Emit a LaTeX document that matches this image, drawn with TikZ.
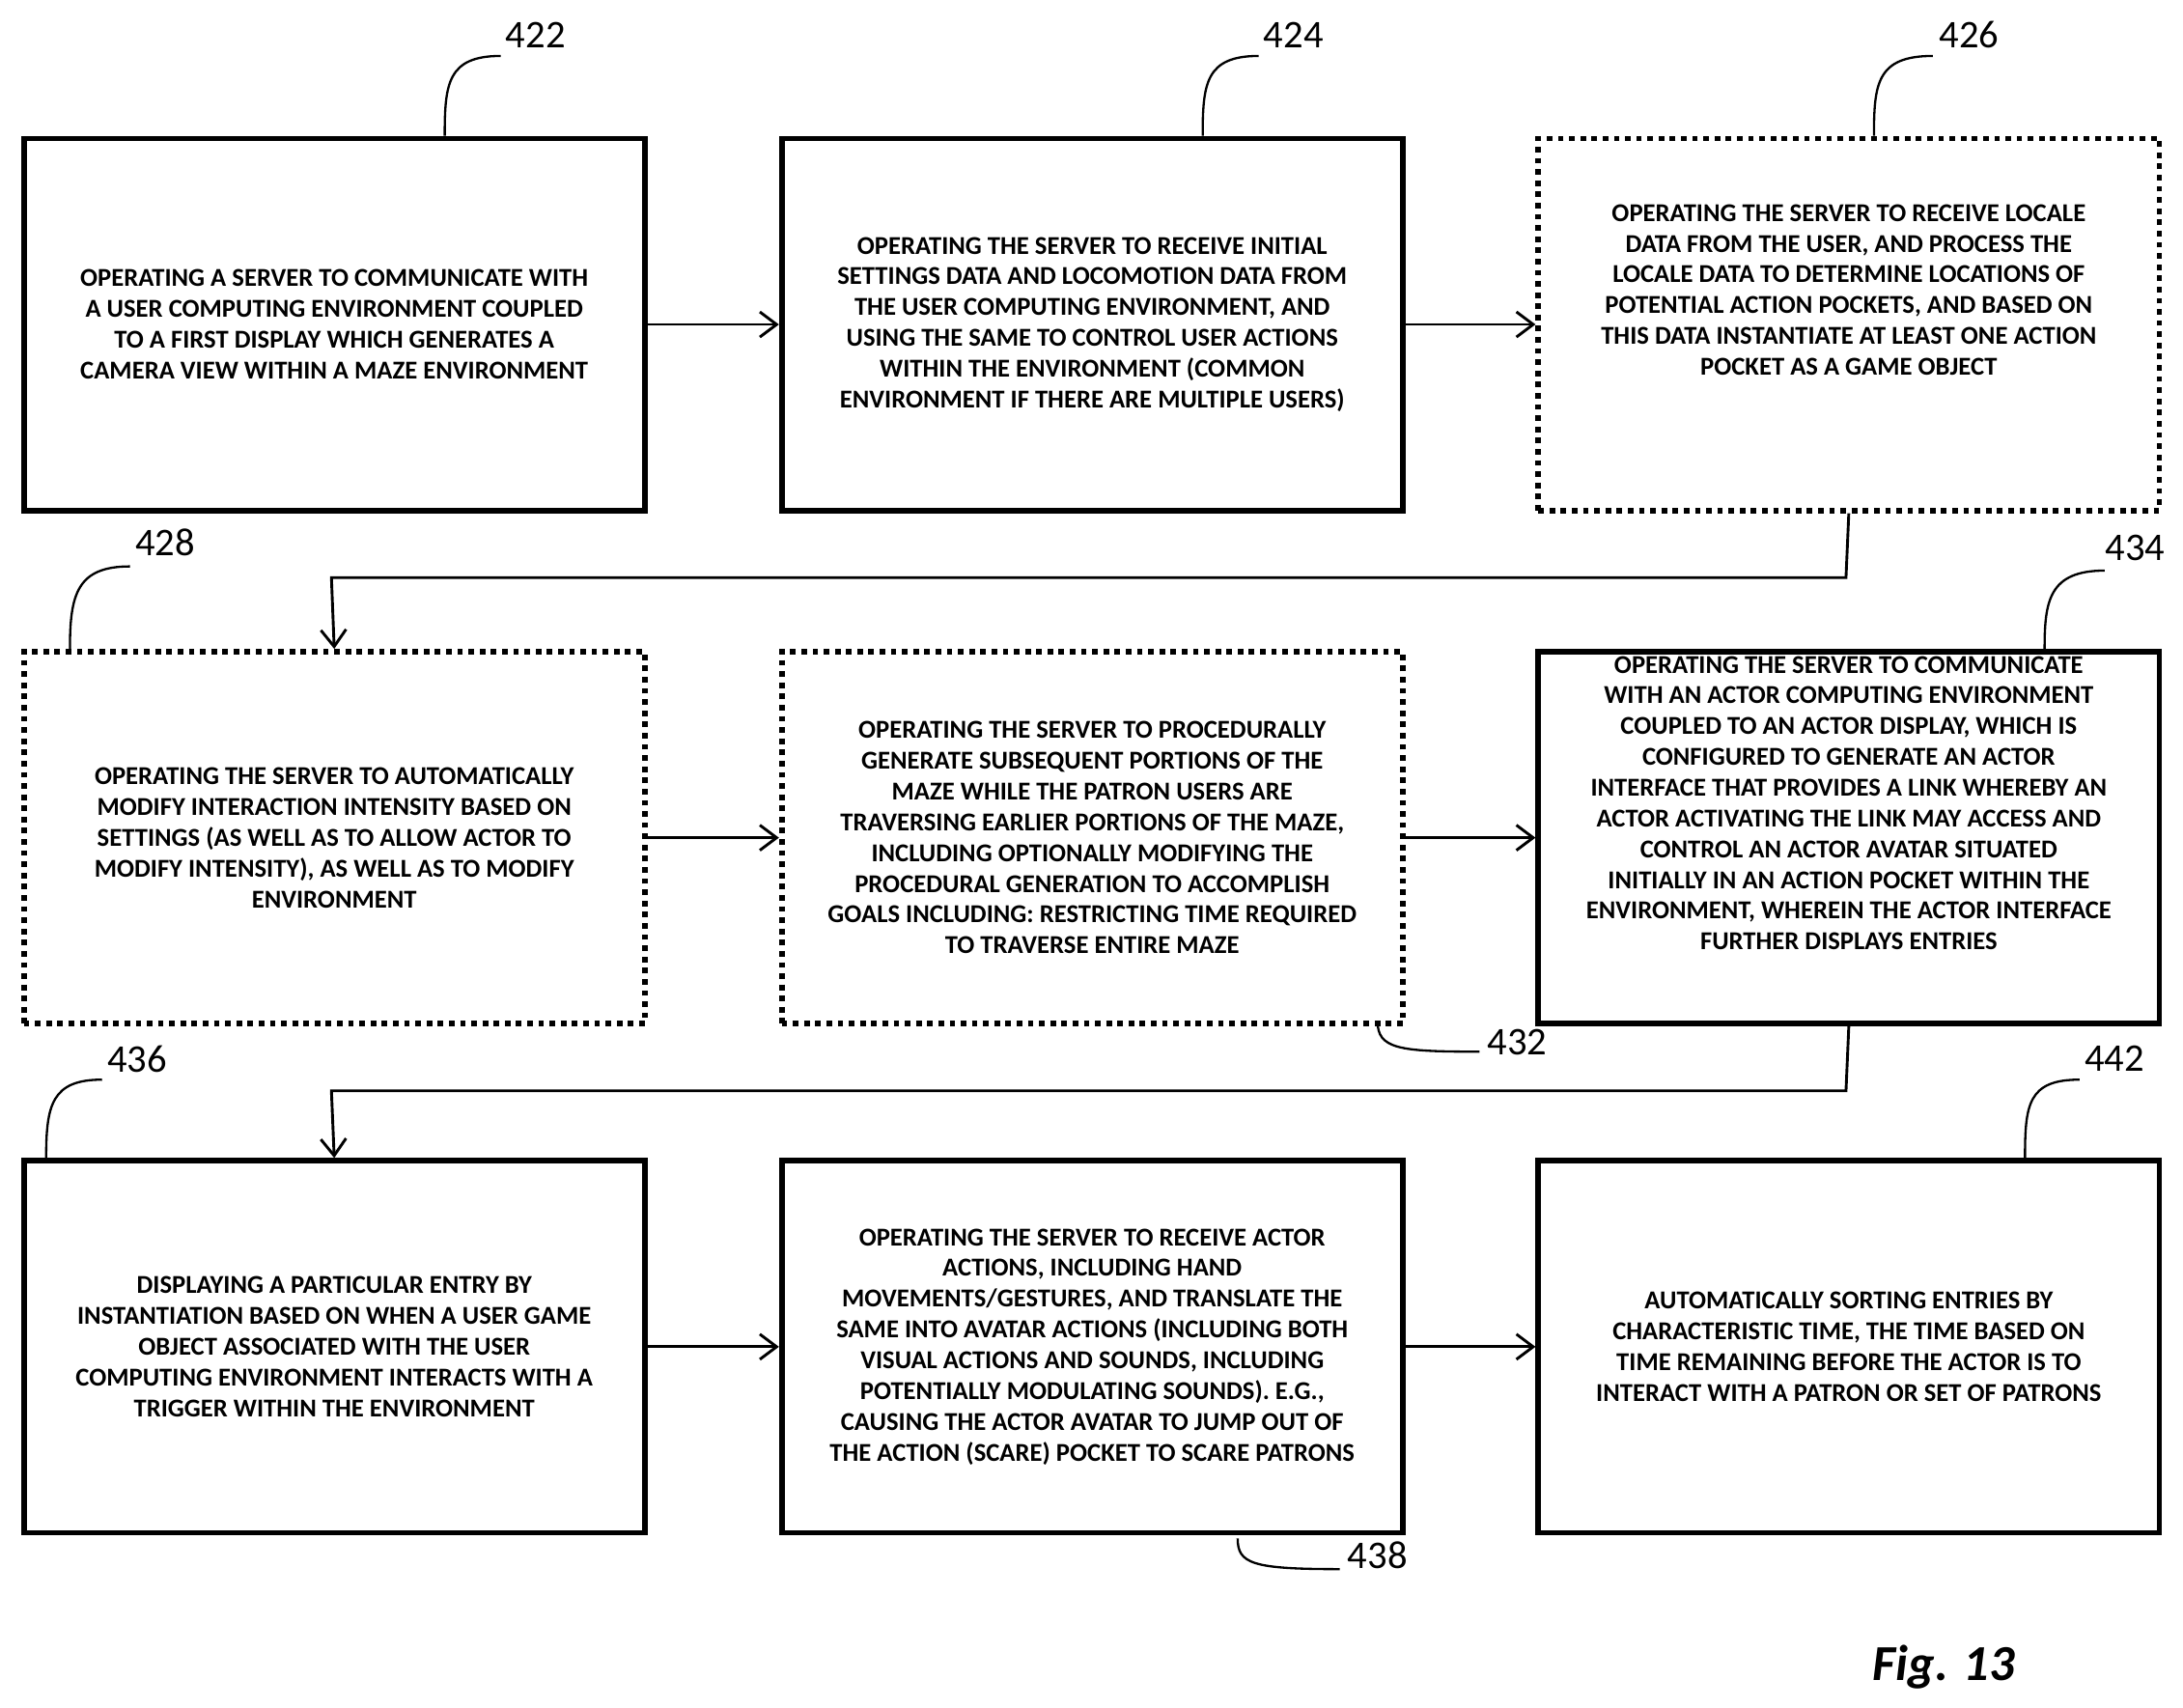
\documentclass[tikz,border=0pt]{standalone}
\usepackage{fontspec}
\setmainfont{Carlito}
\usetikzlibrary{arrows.meta}
\begin{document}
\begin{tikzpicture}[x=0.5pt,y=-0.5pt,
  box/.style={draw,line width=2pt,minimum width=222pt,minimum height=133pt,anchor=north west,align=center,inner sep=0pt,font=\fontsize{9.2}{11}\selectfont\bfseries},
  dot/.style={box,dash pattern=on 2pt off 2pt},
  arr/.style={line width=1pt,-{Straight Barb[length=6pt,width=9pt]}},
  lead/.style={line width=0.8pt},
  lab/.style={font=\fontsize{14}{14}\selectfont}]
\useasboundingbox (0,0) rectangle (1561,1221);
\node[box] (a) at (15,97) {OPERATING A SERVER TO COMMUNICATE WITH\\A USER COMPUTING ENVIRONMENT COUPLED\\TO A FIRST DISPLAY WHICH GENERATES A\\CAMERA VIEW WITHIN A MAZE ENVIRONMENT};
\node[box] (b) at (557,97) {OPERATING THE SERVER TO RECEIVE INITIAL\\SETTINGS DATA AND LOCOMOTION DATA FROM\\THE USER COMPUTING ENVIRONMENT, AND\\USING THE SAME TO CONTROL USER ACTIONS\\WITHIN THE ENVIRONMENT (COMMON\\ENVIRONMENT IF THERE ARE MULTIPLE USERS)};
\node[dot] (c) at (1098,97) {OPERATING THE SERVER TO RECEIVE LOCALE\\DATA FROM THE USER, AND PROCESS THE\\LOCALE DATA TO DETERMINE LOCATIONS OF\\POTENTIAL ACTION POCKETS, AND BASED ON\\THIS DATA INSTANTIATE AT LEAST ONE ACTION\\POCKET AS A GAME OBJECT\\[1.5em]};
\node[dot] (d) at (15,464) {OPERATING THE SERVER TO AUTOMATICALLY\\MODIFY INTERACTION INTENSITY BASED ON\\SETTINGS (AS WELL AS TO ALLOW ACTOR TO\\MODIFY INTENSITY), AS WELL AS TO MODIFY\\ENVIRONMENT};
\node[dot] (e) at (557,464) {OPERATING THE SERVER TO PROCEDURALLY\\GENERATE SUBSEQUENT PORTIONS OF THE\\MAZE WHILE THE PATRON USERS ARE\\TRAVERSING EARLIER PORTIONS OF THE MAZE,\\INCLUDING OPTIONALLY MODIFYING THE\\PROCEDURAL GENERATION TO ACCOMPLISH\\GOALS INCLUDING: RESTRICTING TIME REQUIRED\\TO TRAVERSE ENTIRE MAZE};
\node[box] (f) at (1098,464) {OPERATING THE SERVER TO COMMUNICATE\\WITH AN ACTOR COMPUTING ENVIRONMENT\\COUPLED TO AN ACTOR DISPLAY, WHICH IS\\CONFIGURED TO GENERATE AN ACTOR\\INTERFACE THAT PROVIDES A LINK WHEREBY AN\\ACTOR ACTIVATING THE LINK MAY ACCESS AND\\CONTROL AN ACTOR AVATAR SITUATED\\INITIALLY IN AN ACTION POCKET WITHIN THE\\ENVIRONMENT, WHEREIN THE ACTOR INTERFACE\\FURTHER DISPLAYS ENTRIES\\[1.5em]};
\node[box] (g) at (15,828) {DISPLAYING A PARTICULAR ENTRY BY\\INSTANTIATION BASED ON WHEN A USER GAME\\OBJECT ASSOCIATED WITH THE USER\\COMPUTING ENVIRONMENT INTERACTS WITH A\\TRIGGER WITHIN THE ENVIRONMENT};
\node[box] (h) at (557,828) {OPERATING THE SERVER TO RECEIVE ACTOR\\ACTIONS, INCLUDING HAND\\MOVEMENTS/GESTURES, AND TRANSLATE THE\\SAME INTO AVATAR ACTIONS (INCLUDING BOTH\\VISUAL ACTIONS AND SOUNDS, INCLUDING\\POTENTIALLY MODULATING SOUNDS). E.G.,\\CAUSING THE ACTOR AVATAR TO JUMP OUT OF\\THE ACTION (SCARE) POCKET TO SCARE PATRONS};
\node[box] (i) at (1098,828) {AUTOMATICALLY SORTING ENTRIES BY\\CHARACTERISTIC TIME, THE TIME BASED ON\\TIME REMAINING BEFORE THE ACTOR IS TO\\INTERACT WITH A PATRON OR SET OF PATRONS};
\draw[arr] (a.east) -- (b.west);
\draw[arr] (b.east) -- (c.west);
\draw[arr] (d.east) -- (e.west);
\draw[arr] (e.east) -- (f.west);
\draw[arr] (g.east) -- (h.west);
\draw[arr] (h.east) -- (i.west);
\coordinate (k1) at (1320,413); \coordinate (k2) at (237,413);
\draw[arr] (c.south) -- (k1) -- (k2) -- (d.north);
\coordinate (k3) at (1320,780); \coordinate (k4) at (237,780);
\draw[arr] (f.south) -- (k3) -- (k4) -- (g.north);
% labels
\node[lab] (l422) at (383,25) {422};
\draw[lead] (318,97) .. controls (318,60) and (320,40) .. (358,40);
\node[lab] (l424) at (925,25) {424};
\draw[lead] (860,97) .. controls (860,60) and (862,40) .. (900,40);
\node[lab] (l426) at (1408,25) {426};
\draw[lead] (1340,97) .. controls (1340,60) and (1342,40) .. (1382,40);
\node[lab] (l428) at (118,388) {428};
\draw[lead] (50,464) .. controls (50,425) and (55,405) .. (93,405);
\node[lab] (l434) at (1555,392) [anchor=east] {434};
\draw[lead] (1462,464) .. controls (1462,430) and (1465,408) .. (1505,408);
\node[lab] (l436) at (98,757) {436};
\draw[lead] (33,828) .. controls (33,790) and (37,772) .. (73,772);
\node[lab] (l442) at (1512,757) {442};
\draw[lead] (1448,828) .. controls (1448,790) and (1450,772) .. (1487,772);
\node[lab] (l432) at (1085,745) {432};
\draw[lead] (985,730) .. controls (985,750) and (1000,752) .. (1058,752);
\node[lab] (l438) at (985,1112) {438};
\draw[lead] (885,1100) .. controls (885,1118) and (895,1122) .. (958,1122);
\node[font=\fontsize{18}{18}\selectfont\bfseries\itshape] (fig) at (1390,1192) {Fig. 13};
\end{tikzpicture}
\end{document}
